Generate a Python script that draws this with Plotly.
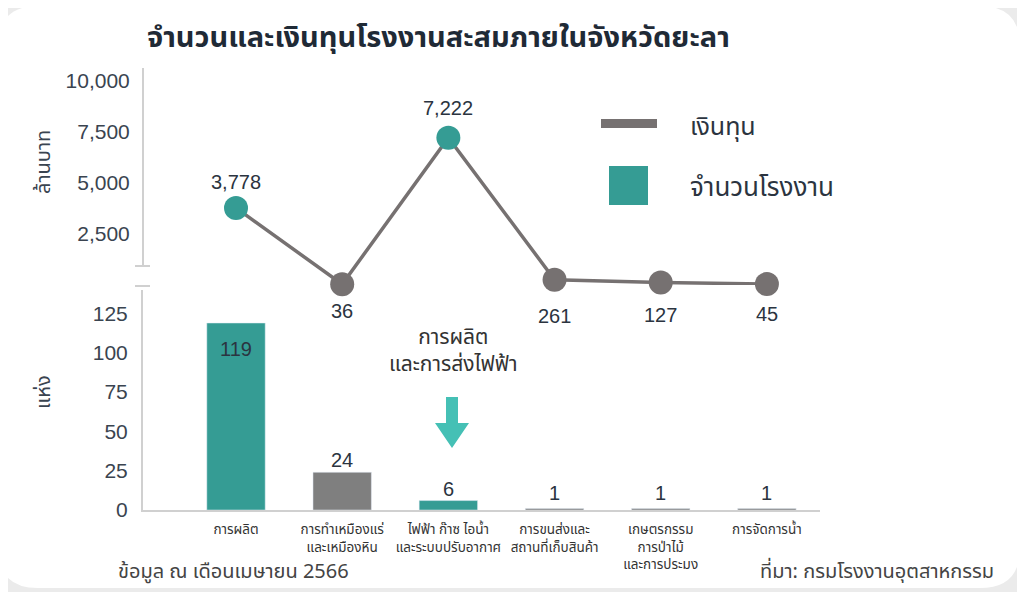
import plotly.graph_objects as go

# ---- data ----
categories = ["การผลิต", "การทำเหมืองแร่<br>และเหมืองหิน", "ไฟฟ้า ก๊าซ ไอน้ำ<br>และระบบปรับอากาศ",
              "การขนส่งและ<br>สถานที่เก็บสินค้า", "เกษตรกรรม<br>การป่าไม้<br>และการประมง", "การจัดการน้ำ"]
investment = [3778, 36, 7222, 261, 127, 45]          # ล้านบาท
factories = [119, 24, 6, 1, 1, 1]                    # แห่ง
highlight = [True, False, True, False, False, False]

# label offsets (pixels, style only)
line_label_shift = [26, -27, 30, -36, -33, -30]
bar_label_shift = [-26, 12, 12, 15, 15, 15]

TEAL = "#359c94"
GRAY = "#7f7f7f"
LINE_GRAY = "#767171"
TXT = "#2b3440"
FONT = "Noto Sans, Noto Sans Thai, sans-serif"
NUMFONT = "Liberation Sans, Arial, sans-serif"

W, H = 1025, 592
OFF = 8  # page body margin
L, R, T, B = 143 - OFF, W - (820 - OFF), 68 - OFF, H - (510 - OFF)
PW, PH = W - L - R, H - T - B

def px(x):
    return (x - OFF - L) / PW

def py(y):
    return (H - B - (y - OFF)) / PH

fig = go.Figure()

bar_colors = [TEAL if h else GRAY for h in highlight]
fig.add_trace(go.Bar(
    x=categories, y=factories, marker_color=bar_colors, width=0.55,
    xaxis="x", yaxis="y", showlegend=False,
))

fig.add_trace(go.Scatter(
    x=categories, y=investment, mode="lines+markers",
    line=dict(color=LINE_GRAY, width=3.5),
    marker=dict(size=24, color=[TEAL if h else LINE_GRAY for h in highlight]),
    xaxis="x2", yaxis="y2", showlegend=False, cliponaxis=False,
))

xr = [-0.876, 5.5]
fig.update_layout(
    width=W, height=H,
    margin=dict(l=L, r=R, t=T, b=B),
    paper_bgcolor="#ebebeb", plot_bgcolor="rgba(0,0,0,0)",
    font=dict(family=FONT, color=TXT),
    xaxis=dict(domain=[0, 1], range=xr, anchor="y", showline=True, linecolor="#d0d0d0", linewidth=2,
               ticks="", tickfont=dict(size=13.5, color="#333333", family=FONT), showgrid=False,
               ticklabelstandoff=6),
    yaxis=dict(domain=[0, py(290)], range=[0, 140], tickvals=[0, 25, 50, 75, 100, 125],
               showline=True, linecolor="#d0d0d0", linewidth=2, showgrid=False, zeroline=False,
               tickfont=dict(size=21, color="#3a4450", family=NUMFONT), ticklen=9, ticks="outside",
               tickcolor="rgba(0,0,0,0)"),
    xaxis2=dict(domain=[0, 1], range=xr, anchor="y2", visible=False, matches="x"),
    yaxis2=dict(domain=[py(285), 1], range=[0, 10637], tickvals=[2500, 5000, 7500, 10000],
                tickformat=",", showline=False, showgrid=False, zeroline=False,
                tickfont=dict(size=21, color="#3a4450", family=NUMFONT), ticks="outside", ticklen=8,
                tickcolor="rgba(0,0,0,0)"),
    bargap=0.45,
)

shapes = []
# white card
x0, y0, x1, y1, r = px(-2), py(6), px(1020), py(588), 40
rx, ry = r / PW, r / PH
path = (f"M {x0+rx},{y0} L {x1-rx},{y0} Q {x1},{y0} {x1},{y0-ry} L {x1},{y1+ry} "
        f"Q {x1},{y1} {x1-rx},{y1} L {x0+rx},{y1} Q {x0},{y1} {x0},{y1+ry} "
        f"L {x0},{y0-ry} Q {x0},{y0} {x0+rx},{y0} Z")
shapes.append(dict(type="path", path=path, xref="paper", yref="paper", fillcolor="white",
                   line=dict(width=0), layer="below"))
# top axis line with break marks
shapes.append(dict(type="line", xref="paper", yref="paper", x0=px(143), x1=px(143), y0=py(68), y1=py(266),
                   line=dict(color="#d0d0d0", width=2)))
shapes.append(dict(type="line", xref="paper", yref="paper", x0=px(135), x1=px(150), y0=py(266), y1=py(266),
                   line=dict(color="#d0d0d0", width=2)))
shapes.append(dict(type="line", xref="paper", yref="paper", x0=px(135), x1=px(150), y0=py(286), y1=py(286),
                   line=dict(color="#d0d0d0", width=2)))
# legend symbols
shapes.append(dict(type="rect", xref="paper", yref="paper", x0=px(601), x1=px(657), y0=py(119), y1=py(128),
                   fillcolor=LINE_GRAY, line=dict(width=0)))
shapes.append(dict(type="rect", xref="paper", yref="paper", x0=px(609), x1=px(648), y0=py(166), y1=py(205),
                   fillcolor=TEAL, line=dict(width=0)))
# down arrow
ax = 452
arrow = (f"M {px(ax-6)},{py(397)} L {px(ax+6)},{py(397)} L {px(ax+6)},{py(423)} L {px(ax+17)},{py(423)} "
         f"L {px(ax)},{py(448)} L {px(ax-17)},{py(423)} L {px(ax-6)},{py(423)} Z")
shapes.append(dict(type="path", path=arrow, xref="paper", yref="paper", fillcolor="#45c0b5",
                   line=dict(width=0)))
fig.update_layout(shapes=shapes)

ann = []
ann.append(dict(text="<b>จำนวนและเงินทุนโรงงานสะสมภายในจังหวัดยะลา</b>", x=px(145), y=py(35),
                xanchor="left", yanchor="middle", font=dict(size=29, color="#1f2a36", family=FONT)))
ann.append(dict(text="ล้านบาท", x=px(42), y=py(162), textangle=-90, xanchor="center", yanchor="middle",
                font=dict(size=20, color="#3a4450", family=FONT)))
ann.append(dict(text="แห่ง", x=px(42), y=py(392), textangle=-90, xanchor="center", yanchor="middle",
                font=dict(size=20, color="#3a4450", family=FONT)))
ann.append(dict(text="เงินทุน", x=px(688), y=py(125), xanchor="left", yanchor="middle",
                font=dict(size=25, color=TXT, family=FONT)))
ann.append(dict(text="จำนวนโรงงาน", x=px(688), y=py(186), xanchor="left", yanchor="middle",
                font=dict(size=26, color=TXT, family=FONT)))
ann.append(dict(text="การผลิต<br>และการส่งไฟฟ้า", x=px(453), y=py(349), xanchor="center", yanchor="middle",
                font=dict(size=21, color="#333333", family=FONT)))
ann.append(dict(text="ข้อมูล ณ เดือนเมษายน 2566", x=px(116), y=py(570), xanchor="left", yanchor="middle",
                font=dict(size=20, color="#444444", family=FONT)))
ann.append(dict(text="ที่มา: กรมโรงงานอุตสาหกรรม", x=px(996), y=py(570), xanchor="right", yanchor="middle",
                font=dict(size=20, color="#444444", family=FONT)))
for a in ann:
    a.update(xref="paper", yref="paper", showarrow=False)

for c, v, s in zip(categories, investment, line_label_shift):
    ann.append(dict(text=f"{v:,}", x=c, y=v, xref="x2", yref="y2", yshift=s, showarrow=False,
                    xanchor="center", yanchor="middle", font=dict(size=20, color=TXT, family=NUMFONT)))
for c, v, s in zip(categories, factories, bar_label_shift):
    ann.append(dict(text=str(v), x=c, y=v, xref="x", yref="y", yshift=s, showarrow=False,
                    xanchor="center", yanchor="middle", font=dict(size=20, color=TXT, family=NUMFONT)))
fig.update_layout(annotations=ann)

fig.write_html("out.html")
